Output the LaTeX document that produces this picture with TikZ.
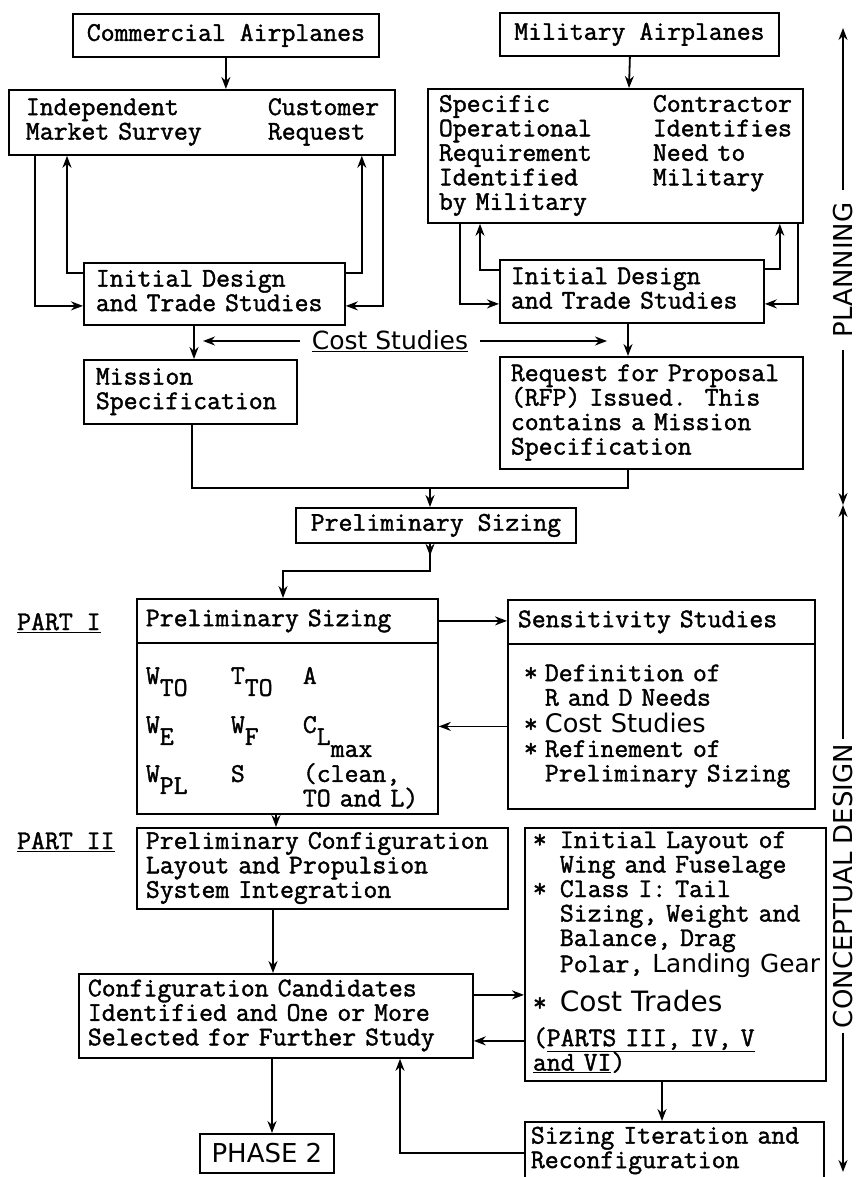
\documentclass[tikz,border=0pt]{standalone}
\usepackage{fontspec}
\usepackage{tikz}
\usetikzlibrary{arrows.meta}
\newfontfamily\tw[FakeBold=1.5]{Latin Modern Mono}
\newfontfamily\hand{DejaVu Sans}
\newcommand\low[1]{\raisebox{-12pt}[0pt][0pt]{#1}}
\newcommand\rows[1]{\begin{tabular}{@{}l@{}}#1\end{tabular}}

\begin{document}
\begin{tikzpicture}[x=1pt,y=-1pt,
  every node/.style={font=\tw\fontsize{27}{24.5}\selectfont},
  lbox/.style={draw,line width=1.8pt,anchor=north west,inner ysep=0pt,align=left},
  tbox/.style={draw,line width=1.8pt,anchor=north west,inner sep=0pt},
  labtext/.style={anchor=base west,inner sep=0pt},
  handtext/.style={font=\hand\fontsize{#1}{#1}\selectfont},
  sidetext/.style={handtext=26,rotate=90,text height=19pt,text depth=0pt,inner ysep=0pt},
  flow/.style={line width=1.8pt,-{Stealth[length=12pt,width=9pt]}},
  wire/.style={line width=1.8pt}]
\fill[white] (0,0) rectangle (857,1177);
\useasboundingbox (0,0) rectangle (857,1177);

\node[tbox,minimum width=306pt,minimum height=43pt] (comm) at (72,13) {Commercial Airplanes};
\node[tbox,minimum width=279pt,minimum height=43pt] (mil) at (499,12) {Military Airplanes};
\node[lbox,inner xsep=17pt,text width=352pt,minimum height=65pt] (survey) at (8,89)
  {\begin{tabular}{@{}p{242pt}@{}l@{}}Independent&Customer\\Market Survey&Request\end{tabular}};
\node[lbox,inner xsep=11pt,text width=353pt,minimum height=134pt] (need) at (427,88)
  {\begin{tabular}{@{}p{214pt}@{}l@{}}Specific&Contractor\\Operational&Identifies\\Requirement&Need to\\Identified&Military\\by Military&\end{tabular}};
\node[lbox,inner xsep=12pt,text width=237pt,minimum height=62pt] (initL) at (83,262) {\rows{Initial Design\\and Trade Studies}};
\node[lbox,inner xsep=11pt,text width=242pt,minimum height=63pt] (initR) at (499,259) {\rows{Initial Design\\and Trade Studies}};
\node[handtext=25,inner xsep=12pt,inner ysep=2pt] (cost) at (390,341) {\underline{Cost Studies}};
\node[lbox,inner xsep=12pt,text width=189pt,minimum height=64pt] (mission) at (83,359) {\rows{Mission\\Specification}};
\node[lbox,inner xsep=11pt,text width=281pt,minimum height=112pt] (rfp) at (499,356)
  {\rows{Request for Proposal\\\smash{(}RFP\smash{)} Issued.~~This\\contains a Mission\\Specification}};
\node[tbox,minimum width=280pt,minimum height=35pt] (presize) at (295,507) {Preliminary Sizing};

\node[labtext] (labI) at (17,630) {\underline{PART I}};
\node[lbox,inner xsep=9pt,text width=283pt,minimum height=44pt] (sizing) at (136,598) {Preliminary Sizing};
\node[lbox,inner xsep=9pt,text width=283pt,minimum height=165pt] (vars) at (136,642)
  {\begin{tabular}{@{}p{85pt}@{}p{72pt}@{}l@{}}\rule{0pt}{41pt}W\low{TO}&T\low{TO}&A\\ &&\\
   W\low{E}&W\low{F}&C\low{L\low{max}}\\ &&\\ W\low{PL}&S&\smash{(}clean,\\ &&TO and L\smash{)}\end{tabular}};
\node[lbox,inner xsep=10pt,text width=287pt,minimum height=44pt] (sens) at (507,599) {Sensitivity Studies};
\node[lbox,inner xsep=16pt,text width=275pt,minimum height=165pt] (sensb) at (507,643)
  {\rows{\makebox[21pt][l]{*}Definition of\\\hspace*{21pt}R and D Needs\\
   \makebox[21pt][l]{*}{\hand\fontsize{25.6}{26}\selectfont Cost Studies}\\
   \makebox[21pt][l]{*}Refinement of\\\hspace*{21pt}Preliminary Sizing}};

\node[labtext] (labII) at (17,849) {\underline{PART II}};
\node[lbox,inner xsep=9pt,text width=353pt,minimum height=81pt] (layout) at (136,827)
  {\rows{Preliminary Configuration\\Layout and Propulsion\\System Integration}};
\node[lbox,inner xsep=8pt,text width=285pt,minimum height=253pt] (trades) at (524,827)
  {\rows{\makebox[27pt][l]{*}Initial Layout of\\\hspace*{27pt}Wing and Fuselage\\
   \makebox[27pt][l]{*}Class I: Tail\\\hspace*{27pt}Sizing, Weight and\\\hspace*{27pt}Balance, Drag\\
   \hspace*{27pt}Polar, {\hand\fontsize{24.8}{26}\selectfont Landing Gear}\\[10.3pt]
   \makebox[27pt][l]{*}{\hand\fontsize{28}{30}\selectfont Cost Trades}\\[10.5pt]
   \smash{(}\underline{PARTS III, IV, V}\\\underline{and VI}\smash{)}}};
\node[lbox,inner xsep=9pt,text width=376pt,minimum height=84pt] (config) at (78,973)
  {\rows{Configuration Candidates\\Identified and One or More\\Selected for Further Study}};
\node[tbox,handtext=26,minimum width=134pt,minimum height=39pt] (phase) at (199,1133) {PHASE 2};
\node[lbox,inner xsep=6pt,text width=287pt,minimum height=58pt] (iter) at (524,1121)
  {\rows{Sizing Iteration and\\Reconfiguration}};

\node[sidetext,inner xsep=12pt] (plan) at (843,270) {PLANNING};
\node[sidetext,inner xsep=5pt] (concept) at (843,886) {CONCEPTUAL DESIGN};

\draw[flow] (comm.south) -- (comm.south |- survey.north);
\draw[flow] ([xshift=-9.5pt]mil.south) -- ([xshift=202pt]need.north west);
\draw[flow] ([xshift=27pt]survey.south west) |- ([yshift=-12pt]initL.west);
\draw[flow] ([yshift=21pt]initL.west) -| ([xshift=59pt]survey.south west);
\draw[flow] ([yshift=21pt]initL.east) -| ([xshift=-34pt]survey.south east);
\draw[flow] ([xshift=-13pt]survey.south east) |- ([yshift=-12pt]initL.east);
\draw[flow] ([xshift=33pt]need.south west) |- ([yshift=-12.5pt]initR.west);
\draw[flow] ([yshift=21.5pt]initR.west) -| ([xshift=53pt]need.south west);
\draw[flow] ([yshift=22.5pt]initR.east) -| ([xshift=-24pt]need.south east);
\draw[flow] ([xshift=-6pt]need.south east) |- ([yshift=-12.5pt]initR.east);
\draw[flow] ([xshift=111pt]initL.south west) -- ([xshift=111pt]mission.north west);
\draw[flow] ([xshift=129pt]initR.south west) -- ([xshift=129pt]rfp.north west);
\coordinate (misTop) at ([xshift=111pt]mission.north west);
\coordinate (rfpTop) at ([xshift=129pt]rfp.north west);
\draw[flow,shorten >=9pt] (cost.west) -- (cost.west -| misTop);
\draw[flow,shorten >=21pt] (cost.east) -- (cost.east -| rfpTop);
\coordinate (join) at ([xshift=135pt,yshift=19pt]presize.north west);
\draw[wire] ([xshift=109pt]mission.south west) |- (join) -| ([xshift=129pt]rfp.south west);
\draw[flow] (join) -- (join |- presize.north);
\draw[flow] ([xshift=135pt]presize.south west) -- ++(0,12);
\draw[flow] ([xshift=135pt]presize.south west) -- ++(0,27) -| ([xshift=147pt]sizing.north west);
\draw[flow] (sizing.east) -- (sizing.east -| sens.west);
\draw[flow] (sensb.west) -- (sensb.west -| vars.east);
\draw[flow] ([xshift=140pt]vars.south west) -- ([xshift=140pt]layout.north west);
\draw[flow] ([xshift=137pt]layout.south west) -- ([xshift=195pt]config.north west);
\draw[flow] ([xshift=194pt]config.south west) -- ([xshift=73pt]phase.north west);
\coordinate (cfgOut) at ([yshift=21pt]config.east);
\coordinate (cfgIn) at ([yshift=-25pt]config.east);
\draw[flow] (cfgOut) -- (cfgOut -| trades.west);
\draw[flow] (cfgIn -| trades.west) -- (cfgIn);
\draw[flow] ([xshift=138pt]trades.south west) -- ([xshift=138pt]iter.north west);
\draw[flow] ([yshift=-2pt]iter.west) -| ([xshift=322pt]config.south west);

\coordinate (planTop) at (843,28);
\coordinate (planEnd) at (843,505);
\coordinate (concEnd) at (843,1172);
\draw[flow] (plan.east) -- (planTop);
\draw[flow] (plan.west) -- (planEnd);
\draw[flow] (concept.east) -- (planEnd);
\draw[flow] (concept.west) -- (concEnd);
\end{tikzpicture}
\end{document}
